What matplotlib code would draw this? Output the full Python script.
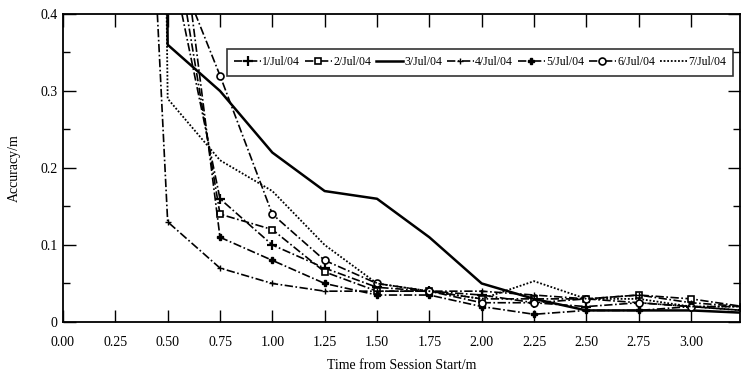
import numpy as np
import matplotlib
matplotlib.use("Agg")
import matplotlib.pyplot as plt
import matplotlib.ticker as ticker

nan = np.nan
# time from session start (m)
t = [0.25, 0.50, 0.75, 1.00, 1.25, 1.50, 1.75, 2.00, 2.25, 2.50, 2.75, 3.00, 3.25]

jul1 = [nan, 0.49, 0.16, 0.10, 0.07, 0.045, 0.040, 0.035, 0.025, 0.020, 0.025, 0.020, 0.015]
jul2 = [nan, 0.55, 0.14, 0.12, 0.065, 0.040, 0.040, 0.030, 0.030, 0.030, 0.035, 0.030, 0.020]
jul3 = [8.0, 0.36, 0.30, 0.22, 0.17, 0.16, 0.11, 0.050, 0.030, 0.015, 0.015, 0.015, 0.012]
jul4 = [1.5, 0.13, 0.07, 0.05, 0.04, 0.040, 0.040, 0.040, 0.035, 0.030, 0.035, 0.025, 0.020]
jul5 = [nan, 0.65, 0.11, 0.08, 0.05, 0.035, 0.035, 0.020, 0.010, 0.015, 0.015, 0.020, 0.015]
jul6 = [nan, 0.49, 0.32, 0.14, 0.08, 0.050, 0.040, 0.025, 0.025, 0.030, 0.025, 0.020, 0.020]
jul7 = [6.0, 0.29, 0.21, 0.17, 0.10, 0.050, 0.040, 0.030, 0.053, 0.030, 0.030, 0.020, 0.020]

labels = ["1/Jul/04", "2/Jul/04", "3/Jul/04", "4/Jul/04", "5/Jul/04", "6/Jul/04", "7/Jul/04"]
xticks = [0.00, 0.25, 0.50, 0.75, 1.00, 1.25, 1.50, 1.75, 2.00, 2.25, 2.50, 2.75, 3.00]

plt.rcParams["font.family"] = ["Liberation Serif", "DejaVu Serif"]
plt.rcParams["font.size"] = 10

dpi = 100
fig = plt.figure(figsize=(741 / dpi, 387 / dpi), dpi=dpi)
ax = fig.add_axes([0.085, 0.168, 0.914, 0.796])

dashdot = (0, (5, 1.5, 1, 1.5))
ax.plot(t, jul1, color="black", lw=1.2, ls=dashdot, marker="+", ms=7, mew=1.6, label=labels[0])
ax.plot(t, jul2, color="black", lw=1.2, ls=dashdot, marker="s", ms=5, mfc="white", mew=1.2, label=labels[1])
ax.plot(t, jul3, color="black", lw=1.8, ls="-", label=labels[2])
ax.plot(t, jul4, color="black", lw=1.2, ls=dashdot, marker="+", ms=4, mew=1.0, label=labels[3])
ax.plot(t, jul5, color="black", lw=1.2, ls=dashdot, marker="P", ms=5, label=labels[4])
ax.plot(t, jul6, color="black", lw=1.2, ls=dashdot, marker="o", ms=5, mfc="white", mew=1.2, label=labels[5])
ax.plot(t, jul7, color="black", lw=1.3, ls=(0, (1, 1)), label=labels[6])

ax.set_xlim(0, 3.235)
ax.set_ylim(0, 0.4)
ax.set_xticks(xticks)
ax.set_xticklabels(["%.2f" % v for v in xticks])
ax.set_yticks([0, 0.1, 0.2, 0.3, 0.4])
ax.set_yticklabels(["0", "0.1", "0.2", "0.3", "0.4"])
ax.yaxis.set_minor_locator(ticker.MultipleLocator(0.05))
ax.tick_params(which="both", direction="in", top=True, right=True, width=1.0)
ax.tick_params(which="major", length=9)
ax.tick_params(which="minor", length=5)
ax.tick_params(axis="x", which="major", pad=10)
ax.tick_params(axis="y", which="major", pad=4)
for s in ax.spines.values():
    s.set_linewidth(1.3)

ax.set_xlabel("Time from Session Start/m", labelpad=7)
ax.set_ylabel("Accuracy/m", labelpad=14)

leg = ax.legend(loc="upper left", bbox_to_anchor=(0.242, 0.885), ncol=7, fontsize=8.5,
                frameon=True, fancybox=False, edgecolor="black", handlelength=2.3,
                handletextpad=0.1, columnspacing=0.4, borderpad=0.6, borderaxespad=0)
leg.get_frame().set_linewidth(1.2)

fig.savefig("out.png", dpi=dpi)
